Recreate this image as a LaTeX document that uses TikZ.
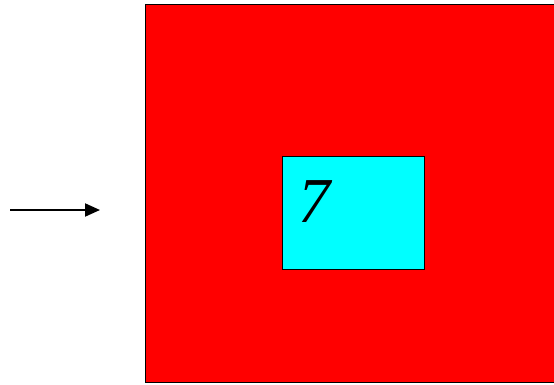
\documentclass[tikz,border=0pt]{standalone}
\usepackage{fontspec}
\setmainfont{Liberation Serif}
\usetikzlibrary{arrows.meta,positioning}
\definecolor{ored}{RGB}{255,0,0}
\definecolor{ocyan}{RGB}{0,255,255}
\tikzset{
  outerbox/.style ={rectangle, draw=black, fill=ored, line width=1.3pt,
                    inner sep=0pt, anchor=south west},
  innerbox/.style ={rectangle, draw=black, fill=ocyan, line width=1.1pt,
                    inner sep=0pt, anchor=south west},
  digit/.style    ={font=\fontsize{64}{64}\selectfont\itshape, inner sep=0pt},
  ar/.style       ={-{Triangle[length=15pt,width=13pt]}, draw=black, line width=2pt}
}
\begin{document}
\begin{tikzpicture}[x=1pt,y=1pt]
\useasboundingbox (0,0) rectangle (554,384);
\node[outerbox, minimum width=415pt, minimum height=378pt] (sq) at (145,1) {};
\node[innerbox, minimum width=142pt, minimum height=113pt] (cell) at (282,114) {};
\node[digit] (seven) at (314,182) {7};
\coordinate (tail) at (10,174);
\coordinate (tip) at (100,174);
\draw[ar] (tail) -- (tip);
\end{tikzpicture}
\end{document}
